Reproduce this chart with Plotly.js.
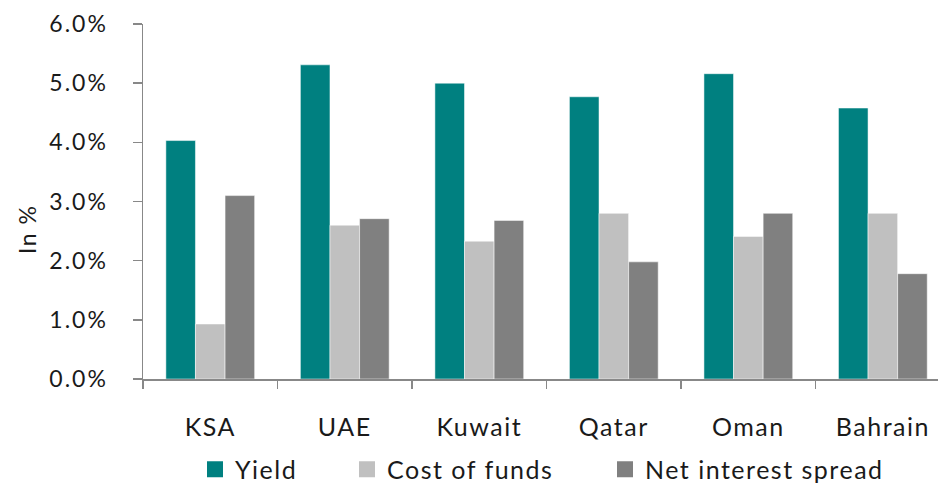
<!DOCTYPE html>
<html><head><meta charset="utf-8">
<script src="https://cdn.plot.ly/plotly-3.0.1.min.js"></script>
<style>html,body{margin:0;padding:0;background:#fff}
svg text{letter-spacing:1.5px !important}
svg .ytick text{letter-spacing:2px !important}
</style>
</head><body>
<div id="chart" style="width:938px;height:485px"></div>
<script>
const categories = ["KSA", "UAE", "Kuwait", "Qatar", "Oman", "Bahrain"];
const yieldVals = [4.03, 5.31, 5.00, 4.77, 5.16, 4.58];
const costVals = [0.93, 2.60, 2.33, 2.80, 2.41, 2.80];
const spreadVals = [3.10, 2.71, 2.68, 1.98, 2.80, 1.78];
const seriesNames = ["Yield", "Cost of funds", "Net interest spread"];
const yTickVals = [0, 1, 2, 3, 4, 5, 6];
const yTickText = ["0.0%", "1.0%", "2.0%", "3.0%", "4.0%", "5.0%", "6.0%"];

const colors = ["#008080", "#C0C0C0", "#808080"];
const legendIds = ["legend", "legend2", "legend3"];
const bars = [yieldVals, costVals, spreadVals].map((v, i) => ({
  type: "bar", x: categories, y: v, name: seriesNames[i], showlegend: false,
  legendgroup: "g" + i,
  marker: {color: colors[i], line: {color: "rgba(255,255,255,0.5)", width: 1}}
}));
// legend entries (larger square keys, as in the original)
const keys = seriesNames.map((n, i) => ({
  type: "scatter", mode: "markers", x: [null], y: [null], name: n,
  legendgroup: "g" + i, legend: legendIds[i], showlegend: true,
  marker: {symbol: "square", size: 16, color: colors[i]}
}));

const fam = "Lato, 'Open Sans', sans-serif";
const bigFont = {family: fam, size: 25, color: "#1a1a1a"};
const tickFont = {family: fam, size: 23, color: "#1a1a1a"};
const W = 795, H = 355, L = 143, B0 = 379;
const legY = (B0 - 469.5) / H;
function leg(px) {
  return {orientation: "h", x: (px - L) / W, xanchor: "left", y: legY, yanchor: "middle",
          font: bigFont, itemwidth: 30, bgcolor: "rgba(0,0,0,0)"};
}
const layout = {
  width: 938, height: 485,
  margin: {l: L, r: 0, t: 24, b: 106, autoexpand: false},
  paper_bgcolor: "#fff", plot_bgcolor: "#fff",
  font: bigFont,
  barmode: "group", bargap: 0.34, bargroupgap: 0,
  showlegend: true,
  legend: leg(195), legend2: leg(347), legend3: leg(605),
  xaxis: {type: "category", range: [-0.5, 5.41], showline: true, linecolor: "#888", linewidth: 1.5,
          ticks: "outside", tickson: "boundaries", ticklen: 8, tickcolor: "#888", tickwidth: 1.5,
          showgrid: false, zeroline: false, ticklabelstandoff: 25, tickfont: bigFont},
  yaxis: {range: [0, 6], tickvals: yTickVals, ticktext: yTickText, showline: true, linecolor: "#888",
          linewidth: 1.5, ticks: "outside", ticklen: 9, tickcolor: "#888", tickwidth: 1.5,
          showgrid: false, zeroline: false, tickfont: tickFont, ticklabelstandoff: 20},
  annotations: [{text: "In %", xref: "paper", yref: "paper", x: (27 - L) / W, y: (B0 - 230) / H,
                 xanchor: "center", yanchor: "middle", textangle: -90, showarrow: false,
                 font: tickFont}]
};
Plotly.newPlot("chart", bars.concat(keys), layout, {displayModeBar: false, staticPlot: true});
</script>
</body></html>
